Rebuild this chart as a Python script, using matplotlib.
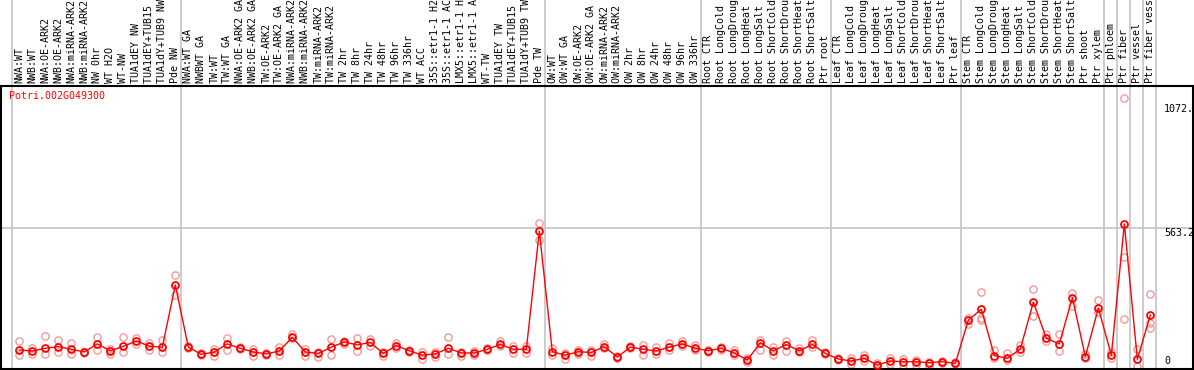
import matplotlib
matplotlib.use("Agg")
import matplotlib.pyplot as plt

# nomes das amostras (cabecalho)
labels = ["NWA:WT", "NWB:WT", "NWA:OE-ARK2", "NWB:OE-ARK2", "NWA:miRNA-ARK2", "NWB:miRNA-ARK2",
          "NW 0hr", "WT H2O", "WT-NW", "TUA1dEY NW", "TUA1dEY+TUB15 NW", "TUA1dY+TUB9 NW", "Pde NW",
          "NWA:WT GA", "NWBWT GA", "TW:WT", "TW:WT GA", "NWA:OE-ARK2 GA", "NWB:OE-ARK2 GA",
          "TW:OE-ARK2", "TW:OE-ARK2 GA", "NWA:miRNA-ARK2 GA", "NWB:miRNA-ARK2 GA", "TW:miRNA-ARK2",
          "TW:miRNA-ARK2 GA", "TW 2hr", "TW 8hr", "TW 24hr", "TW 48hr", "TW 96hr", "TW 336hr", "WT ACC",
          "35S::etr1-1 H2O", "35S::etr1-1 ACC", "LMX5::etr1-1 H2O", "LMX5::etr1-1 ACC", "WT-TW",
          "TUA1dEY TW", "TUA1dEY+TUB15 TW", "TUA1dY+TUB9 TW", "Pde TW",
          "OW:WT", "OW:WT GA", "OW:OE-ARK2", "OW:OE-ARK2 GA", "OW:miRNA-ARK2", "OW:miRNA-ARK2 GA",
          "OW 2hr", "OW 8hr", "OW 24hr", "OW 48hr", "OW 96hr", "OW 336hr",
          "Root CTR", "Root LongCold", "Root LongDrought", "Root LongHeat", "Root LongSalt",
          "Root ShortCold", "Root ShortDrought", "Root ShortHeat", "Root ShortSalt", "Ptr root",
          "Leaf CTR", "Leaf LongCold", "Leaf LongDrought", "Leaf LongHeat", "Leaf LongSalt",
          "Leaf ShortCold", "Leaf ShortDrought", "Leaf ShortHeat", "Leaf ShortSalt", "Ptr leaf",
          "Stem CTR", "Stem LongCold", "Stem LongDrought", "Stem LongHeat", "Stem LongSalt",
          "Stem ShortCold", "Stem ShortDrought", "Stem ShortHeat", "Stem ShortSalt", "Ptr shoot",
          "Ptr xylem", "Ptr phloem", "Ptr fiber", "Ptr vessel", "Ptr fiber vessel"]

# tamanho de cada grupo (separados por linhas cinzentas)
group_sizes = [13, 28, 12, 10, 10, 11, 1, 1, 1, 1]

# media por amostra
means = [64, 60, 71, 78, 67, 56, 89, 61, 79, 101, 80, 75, 331,
         76, 46, 56, 89, 71, 56, 48, 60, 116, 56, 50, 76, 97, 85, 95, 50, 82, 61, 43, 48, 71,
         52, 52, 67, 87, 67, 67, 552,
         57, 43, 57, 54, 78, 35, 76, 67, 60, 76, 89, 71,
         61, 71, 52, 23, 94, 61, 86, 61, 87, 50,
         27, 19, 30, 2, 19, 16, 16, 12, 16, 9,
         187, 231, 41, 30, 68, 261, 112, 89, 279, 37, 236,
         43, 581, 26, 208]

# replicas por amostra
replicas = [[101, 43], [71, 46], [121, 46], [104, 57], [93, 46], [57, 52], [117, 64], [68, 46],
            [117, 57], [115, 87], [91, 64], [105, 57], [370, 290],
            [80, 71], [50, 43], [68, 41], [112, 64], [76, 68], [68, 41], [53, 43], [78, 43],
            [128, 112], [68, 41], [57, 37], [109, 43], [101, 90], [112, 61], [109, 80], [57, 41],
            [94, 71], [65, 57], [57, 27], [57, 37], [116, 46], [57, 41], [60, 43], [71, 63],
            [102, 82], [82, 50], [82, 50], [585, 514],
            [71, 43], [50, 27], [64, 46], [64, 41], [87, 71], [41, 30], [82, 71], [85, 43],
            [78, 46], [91, 64], [101, 82], [85, 64],
            [64, 57], [78, 64], [64, 43], [30, 13], [105, 64], [78, 43], [101, 61], [71, 57],
            [105, 78], [57, 46],
            [33, 23], [30, 5], [43, 19], [9, 0], [30, 5], [27, 2], [23, 2], [16, 0], [19, 9], [13, 5],
            [197, 169], [301, 197, 187], [64, 30], [50, 23], [85, 55], [314, 204], [128, 101],
            [128, 60], [297, 246], [46, 30], [268, 219],
            [57, 30], [1097, 447, 191], [68, 0], [294, 173, 156]]

gene = "Potri.002G049300"
tick_vals = [1072, 563.2, 0]
tick_txt = ["1072.", "563.2", "0"]

###############################################################################

W, H = 1194, 370
fig = plt.figure(figsize=(W / 100, H / 100), dpi=100)
ax = fig.add_axes([1 / W, 1 / H, 1192 / W, (369 - 85.5) / H])

mono = "DejaVu Sans Mono"
red = "#ff0000"
pink = "#f09a9a"
grey = "#c4c4c4"

x = list(range(len(means)))

# replicas (circulos claros)
for i, reps in enumerate(replicas):
    ax.plot([i] * len(reps), reps, linestyle="none", marker="o", markersize=5.2,
            markerfacecolor="none", markeredgecolor=pink, markeredgewidth=1.0, zorder=2)

# linha das medias
ax.plot(x, means, color=red, lw=1.0, marker="o", markersize=5.0,
        markerfacecolor="none", markeredgecolor=red, markeredgewidth=1.3, zorder=3)

ax.set_xlim(-1.408, 90.28)
ax.set_ylim(-13.9, 1149.4)
ax.set_xticks([])
ax.set_yticks([])
for s in ax.spines.values():
    s.set_color("black")
    s.set_linewidth(1.5)

# separadores de grupos (sobem ate ao topo da figura)
start = 0
for g in [0] + group_sizes:
    start += g
    sx = start - 0.6
    ax.plot([sx, sx], [0, 1.31], transform=ax.get_xaxis_transform(), color=grey,
            lw=1.2, clip_on=False, zorder=0)

ax.axhline(563.2, color=grey, lw=1.2, zorder=0)

# cabecalho com nomes rodados
for i, lab in enumerate(labels):
    ax.annotate(lab, (i, 1), xycoords=("data", "axes fraction"), xytext=(0, 1.5),
                textcoords="offset points", rotation=90, ha="center", va="bottom",
                fontsize=7.2, family=mono, annotation_clip=False)

# valores no lado direito
for v, t in zip(tick_vals, tick_txt):
    ax.text(0.9757, v, t, transform=ax.get_yaxis_transform(), ha="left",
            va="bottom" if v == 0 else "top", fontsize=7.2, family=mono)

fig.text(9 / W, 1 - 91 / H, gene, color=red, fontsize=7.2, family=mono, va="top", ha="left")

fig.savefig("out.png", dpi=100)
